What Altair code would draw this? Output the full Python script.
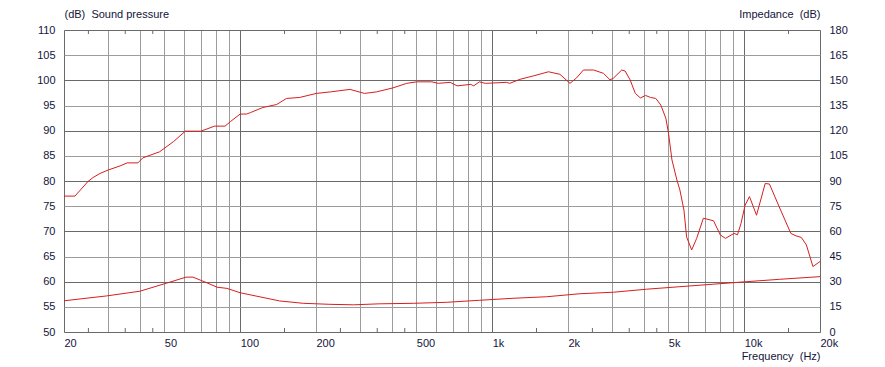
import altair as alt
import pandas as pd

# Sound pressure (dB, left axis)
spl_freq = [20, 22.1, 24.9, 26.1, 27.8, 30, 33.4, 35.6, 39.3, 41.1, 47.9, 54.3, 60.6, 69.9,
            79.2, 87.1, 91.5, 100, 106, 110, 123, 139.7, 152.7, 172.4, 200.6, 227.9, 272.7,
            311.6, 347, 404, 458, 502, 576, 612, 681, 726, 823, 845, 890, 940, 1140, 1175,
            1289, 1463, 1673, 1857, 2037, 2164, 2302, 2525, 2764, 2935, 3025, 3268, 3370,
            3528, 3700, 3875, 4060, 4250, 4460, 4670, 4890, 5010, 5170, 5410, 5560, 5770,
            5910, 6190, 6480, 6890, 7560, 8040, 8430, 9120, 9410, 9720, 10090, 10500, 11200,
            12120, 12600, 13770, 15320, 16060, 16850, 17660, 18750, 20000]
spl_db = [77.0, 77.0, 79.9, 80.7, 81.5, 82.2, 83.0, 83.6, 83.6, 84.6, 85.8, 87.8, 89.9, 89.9,
          90.9, 90.9, 91.8, 93.3, 93.3, 93.6, 94.6, 95.2, 96.4, 96.6, 97.4, 97.7, 98.2,
          97.4, 97.7, 98.5, 99.4, 99.7, 99.7, 99.4, 99.6, 98.9, 99.2, 98.9, 99.7, 99.4, 99.6, 99.4,
          100.2, 100.9, 101.7, 101.2, 99.4, 100.5, 102.05, 102.05, 101.4, 100.1, 100.4, 102.05, 101.85,
          100.1, 97.4, 96.5, 97.0, 96.6, 96.4, 95.1, 92.45, 89.5, 84.2, 80.2, 78.2, 74.2,
          68.9, 66.3, 68.6, 72.6, 72.1, 69.3, 68.6, 69.6, 69.3, 71.6, 75.2, 76.9, 73.2,
          79.5, 79.4, 74.9, 69.6, 69.1, 68.8, 67.3, 63.0, 64.0]

# Impedance (dB, right axis)
imp_freq = [20, 29.5, 40, 51, 61, 65, 73.6, 81, 88.6, 100, 143.6, 178, 227, 282, 357, 488,
            660, 890, 1210, 1640, 2230, 3025, 4100, 5560, 7560, 10250, 13800, 20000]
imp_db = [18.6, 21.5, 24.3, 29.1, 32.7, 32.7, 29.4, 26.7, 26.0, 23.4, 18.5, 17.1, 16.5, 16.2,
          16.8, 17.1, 17.7, 18.9, 20.1, 21.0, 22.8, 23.7, 25.5, 27.0, 28.5, 30.0, 31.4, 33.0]

grid_freqs = [20, 30, 40, 50, 60, 70, 80, 90, 100, 200, 300, 400, 500, 600, 700, 800, 900,
              1000, 2000, 3000, 4000, 5000, 6000, 7000, 8000, 9000, 10000, 20000]
label_freqs = [20, 50, 100, 200, 500, 1000, 2000, 5000, 10000, 20000]
dark_freqs = [20, 100, 1000, 10000, 20000]
minor_ticks = [25, 35, 45, 150, 250, 350, 450, 1500, 2500, 3500, 4500, 15000]
left_ticks = list(range(50, 111, 5))
right_ticks = list(range(0, 181, 15))

RED = "#d81e1e"
LIGHT = "#9c9c9c"
DARK = "#6a6a6a"
FONT = "Liberation Sans"
LBL = "#14143c"

W, H = 756, 302

spl_df = pd.DataFrame({"f": spl_freq, "v": spl_db})
imp_df = pd.DataFrame({"f": imp_freq, "v": imp_db})
minor_df = pd.DataFrame({"f": minor_ticks})

lab_list = ",".join(str(v) for v in label_freqs)
dark_list = ",".join(str(v) for v in dark_freqs)

x_enc = alt.X(
    "f:Q",
    scale=alt.Scale(type="log", domain=[20, 20000], nice=False),
    axis=alt.Axis(
        values=grid_freqs,
        grid=True,
        gridColor={"condition": {"test": f"indexof([{dark_list}], datum.value) >= 0", "value": DARK},
                   "value": LIGHT},
        ticks=False, tickSize=0, domain=False,
        labelAlign="left", labelFlush=False, labelOverlap=False, labelPadding=5,
        labelExpr=f"indexof([{lab_list}], datum.value) >= 0 ? (datum.value >= 1000 ? (datum.value/1000) + 'k' : datum.value + '') : ''",
        labelFont=FONT, labelFontSize=11, labelColor=LBL,
        title="Frequency\u00a0 (Hz)", titleFont=FONT, titleFontSize=11, titleFontWeight="normal",
        titleColor=LBL, titleAlign="right", titleAnchor="end", titleBaseline="alphabetic",
        titleX=W, titleY=27,
    ),
)

y_left = alt.Y(
    "v:Q",
    scale=alt.Scale(domain=[50, 110], nice=False, zero=False),
    axis=alt.Axis(
        values=left_ticks, grid=True,
        gridColor={"condition": {"test": "datum.value % 10 === 0", "value": DARK}, "value": LIGHT},
        ticks=False, tickSize=0, domain=False, labelPadding=9,
        labelFont=FONT, labelFontSize=11, labelColor=LBL,
        title="(dB)\u00a0 Sound pressure", titleFont=FONT, titleFontSize=11, titleFontWeight="normal",
        titleColor=LBL, titleAngle=0, titleAlign="left", titleBaseline="alphabetic",
        titleX=0, titleY=-13,
    ),
)

y_right = alt.Y(
    "v:Q",
    scale=alt.Scale(domain=[0, 180], nice=False),
    axis=alt.Axis(
        orient="right", values=right_ticks, grid=False,
        ticks=False, tickSize=0, domain=False, labelPadding=9,
        labelFont=FONT, labelFontSize=11, labelColor=LBL,
        title="Impedance\u00a0 (dB)", titleFont=FONT, titleFontSize=11, titleFontWeight="normal",
        titleColor=LBL, titleAngle=0, titleAlign="right", titleBaseline="alphabetic",
        titleX=0, titleY=-13,
    ),
)

spl_line = alt.Chart(spl_df).mark_line(color=RED, strokeWidth=1, interpolate="linear").encode(
    x=x_enc, y=y_left)

minor_top = alt.Chart(minor_df).mark_rule(color=DARK, strokeWidth=1).encode(
    x=x_enc, y=alt.value(0), y2=alt.value(4))
minor_bot = alt.Chart(minor_df).mark_rule(color=DARK, strokeWidth=1).encode(
    x=x_enc, y=alt.value(H - 4), y2=alt.value(H))

left_layer = alt.layer(spl_line, minor_top, minor_bot)

imp_line = alt.Chart(imp_df).mark_line(color=RED, strokeWidth=1, interpolate="linear").encode(
    x=x_enc, y=y_right)

chart = alt.layer(left_layer, imp_line).resolve_scale(y="independent").properties(
    width=W, height=H,
    autosize=alt.AutoSizeParams(type="none"),
    padding={"left": 64, "top": 30, "right": 65, "bottom": 35},
).configure_view(stroke=DARK, strokeWidth=1).configure(background="white")

chart.save("out.html", embed_options={"renderer": "svg", "actions": False})
